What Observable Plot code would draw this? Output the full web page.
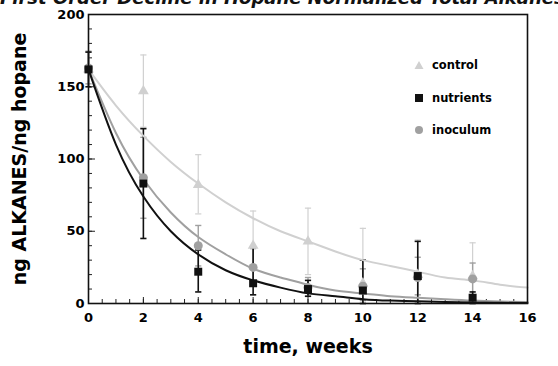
<!DOCTYPE html>
<html>
<head>
<meta charset="utf-8">
<script src="https://cdn.jsdelivr.net/npm/d3@7"></script>
<script src="https://cdn.jsdelivr.net/npm/@observablehq/plot@0.6"></script>
<style>
  html, body { margin: 0; padding: 0; background: #fff; overflow: hidden; }
  #wrap { position: relative; width: 558px; height: 366px; overflow: hidden; font-family: "DejaVu Sans", sans-serif; }
  #title { position: absolute; left: 0px; top: -13px; white-space: nowrap; font-size: 18px; font-weight: bold; font-style: italic; color: #111; font-family: "DejaVu Sans", sans-serif; }
  #chart { position: absolute; left: 0; top: 0; }
  .leg { position: absolute; left: 414px; font-size: 11.5px; font-weight: bold; color: #000; display: flex; align-items: center; }
  .leg svg { margin-right: 8px; }
</style>
</head>
<body>
<div id="wrap">
  <div id="chart"></div>
  <div id="title">First Order Decline in Hopane Normalized Total Alkanes</div>
  <div class="leg" style="top:58px"><svg width="10" height="10"><polygon points="5,1 9.5,9 0.5,9" fill="#d0d0d0"/></svg>control</div>
  <div class="leg" style="top:91px"><svg width="10" height="10"><rect x="1" y="1" width="8" height="8" fill="#111"/></svg>nutrients</div>
  <div class="leg" style="top:123px"><svg width="10" height="10"><circle cx="5" cy="5" r="4" fill="#a0a0a0"/></svg>inoculum</div>
</div>
<script>
// measured sampling times (weeks)
const weeks = [0, 2, 4, 6, 8, 10, 12, 14];

// control (light gray triangles)
const controlVal = [162, 147, 82, 40, 43, 14, 20, 19];
const controlLo  = [150, 122, 62, 16, 20, 0, 0, 0];
const controlHi  = [175, 172, 103, 64, 66, 52, 44, 42];

// nutrients (black squares)
const nutrientsVal = [162, 83, 22, 14, 10, 9, 19, 4];
const nutrientsLo  = [150, 45, 8, 6, 5, 0, 0, 0];
const nutrientsHi  = [174, 121, 37, 39, 16, 30, 43, 8];

// inoculum (mid-gray circles)
const inoculumVal = [163, 87, 40, 25, 11, 12, 18, 17];
const inoculumLo  = [152, 59, 26, 12, 5, 2, 6, 5];
const inoculumHi  = [174, 115, 54, 38, 18, 24, 32, 28];

// fitted first-order decline curves at each week
const curveWeeks = [0,1,2,3,4,5,6,7,8,9,10,11,12,13,14,15,16];
const controlCurve   = [162,137,116,98,83,70,59,50,43,36,30,26,22,18,16,13,11];
const inoculumCurve  = [162,118,86,63,46,34,24,18,13,9,7,5,4,3,2,1.4,1];
const nutrientsCurve = [162,110,74,50,34,23,16,11,7,5,3,2,1.5,1,0.7,0.5,0.3];

// axis tick labels
const yTickLabels = [0, 50, 100, 150, 200];
const xTickLabels = [0, 2, 4, 6, 8, 10, 12, 14, 16];

const colors = {control: "#d0d0d0", inoculum: "#a0a0a0", nutrients: "#111111"};

function rows(name, vals, lo, hi) {
  return weeks.map((t, i) => ({series: name, t, v: vals[i], lo: lo[i], hi: hi[i]}));
}
function crows(name, vals) {
  return curveWeeks.map((t, i) => ({series: name, t, v: vals[i]}));
}
const control = rows("control", controlVal, controlLo, controlHi);
const nutrients = rows("nutrients", nutrientsVal, nutrientsLo, nutrientsHi);
const inoculum = rows("inoculum", inoculumVal, inoculumLo, inoculumHi);

const capSymbol = {
  draw(ctx, size) {
    const w = Math.sqrt(size) / 2;
    ctx.moveTo(-w, 0);
    ctx.lineTo(w, 0);
  }
};

function errMarks(data, color, sw) {
  return [
    Plot.ruleX(data, {x: "t", y1: "lo", y2: "hi", stroke: color, strokeWidth: sw}),
    Plot.dot(data, {x: "t", y: "hi", symbol: capSymbol, r: 3.5, stroke: color, strokeWidth: sw}),
    Plot.dot(data, {x: "t", y: "lo", symbol: capSymbol, r: 3.5, stroke: color, strokeWidth: sw})
  ];
}

const font = "DejaVu Sans, sans-serif";

const chart = Plot.plot({
  width: 558,
  height: 366,
  marginLeft: 88,
  marginRight: 31,
  marginTop: 14,
  marginBottom: 63,
  style: {fontFamily: font, background: "white"},
  x: {domain: [0, 16]},
  y: {domain: [0, 200]},
  marks: [
    // ticks (inward)
    Plot.axisY(d3.range(0, 201, 10), {tickSize: -4, text: null, label: null, stroke: "#222"}),
    Plot.axisY(yTickLabels, {tickSize: -7, text: null, label: null, stroke: "#222"}),
    Plot.axisY(yTickLabels, {tickSize: 0, tickPadding: 4, fontSize: 13, fontWeight: "bold", label: null}),
    Plot.axisX(d3.range(0, 16.01, 0.5), {tickSize: -4, text: null, label: null, stroke: "#222"}),
    Plot.axisX(xTickLabels, {tickSize: -6, text: null, label: null, stroke: "#222"}),
    Plot.axisX(xTickLabels, {tickSize: 0, tickPadding: 9, fontSize: 13, fontWeight: "bold", label: null}),
    // error bars
    ...errMarks(control, colors.control, 1.2),
    ...errMarks(inoculum, colors.inoculum, 1.4),
    ...errMarks(nutrients, colors.nutrients, 1.6),
    // fitted curves
    Plot.line(crows("control", controlCurve), {x: "t", y: "v", stroke: colors.control, strokeWidth: 2, curve: "natural"}),
    Plot.line(crows("inoculum", inoculumCurve), {x: "t", y: "v", stroke: colors.inoculum, strokeWidth: 2, curve: "natural"}),
    Plot.line(crows("nutrients", nutrientsCurve), {x: "t", y: "v", stroke: colors.nutrients, strokeWidth: 2, curve: "natural"}),
    // points
    Plot.dot(control, {x: "t", y: "v", symbol: "triangle", r: 4, fill: colors.control}),
    Plot.dot(inoculum, {x: "t", y: "v", symbol: "circle", r: 4.5, fill: colors.inoculum}),
    Plot.dot(nutrients, {x: "t", y: "v", symbol: "square", r: 4.5, fill: colors.nutrients}),
    // frame
    Plot.frame({stroke: "#111", strokeWidth: 1.6}),
    // axis titles
    Plot.text(["ng ALKANES/ng hopane"], {frameAnchor: "left", dx: -69, rotate: -90, textAnchor: "middle", fontSize: 19, fontWeight: "bold", fill: "#000"}),
    Plot.text(["time, weeks"], {frameAnchor: "bottom", dy: 49, textAnchor: "middle", fontSize: 19, fontWeight: "bold", fill: "#000"})
  ]
});
document.getElementById("chart").appendChild(chart);
</script>
</body>
</html>
